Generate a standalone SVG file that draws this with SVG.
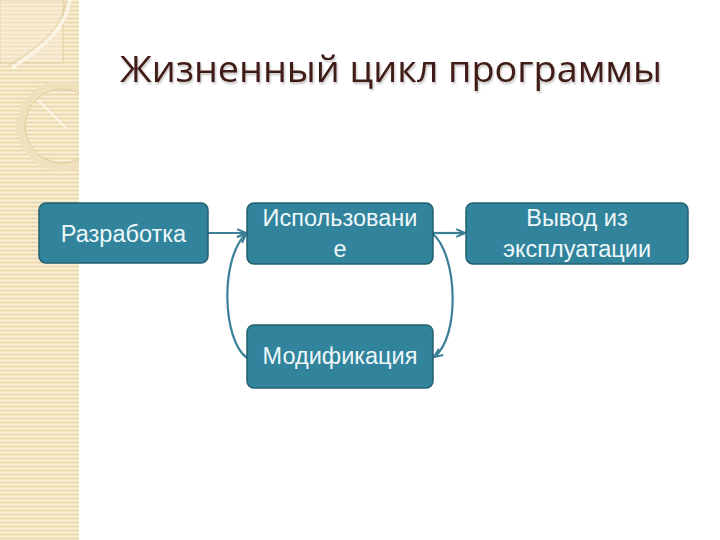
<svg xmlns="http://www.w3.org/2000/svg" width="720" height="540" viewBox="0 0 720 540">
  <defs>
    <pattern id="stripes" width="4" height="4" patternUnits="userSpaceOnUse">
      <rect width="4" height="4" fill="#f3e4c2"/>
      <rect y="0" width="4" height="1" fill="#faf1dc"/>
      <rect y="2" width="4" height="1" fill="#ead7ad"/>
    </pattern>
    <clipPath id="stripclip"><rect x="0" y="0" width="79" height="540"/></clipPath>
    <marker id="arr" viewBox="0 0 10 10" refX="9" refY="5" markerWidth="11" markerHeight="11" orient="auto" markerUnits="userSpaceOnUse">
      <path d="M1,1.5 L9,5 L1,8.5" fill="none" stroke="#3a7f96" stroke-width="1.8"/>
    </marker>
    <filter id="shadow" x="-5%" y="-20%" width="110%" height="140%">
      <feGaussianBlur in="SourceAlpha" stdDeviation="1"/>
      <feOffset dx="1" dy="1.5" result="b"/>
      <feComponentTransfer><feFuncA type="linear" slope="0.25"/></feComponentTransfer>
      <feMerge><feMergeNode/><feMergeNode in="SourceGraphic"/></feMerge>
    </filter>
  </defs>
  <style>
    .box { fill: #31849b; stroke: #235f70; stroke-width: 1.5; }
    .lbl { font-family: "Liberation Sans", Arial, sans-serif; font-size: 23.5px; fill: #eef7fa; text-anchor: middle; }
    .conn { fill: none; stroke: #3a7f96; stroke-width: 2.2; }
    .title { font-family: "Open Sans", "Noto Sans", sans-serif; font-size: 36px; fill: #3f1a14; }
  </style>
  <rect width="720" height="540" fill="#ffffff"/>
  <g id="sidebar">
    <rect x="0" y="0" width="79" height="540" fill="url(#stripes)"/>
    <g clip-path="url(#stripclip)">
      <rect x="0" y="0" width="63" height="63" fill="#f8eed6" fill-opacity="0.45" stroke="#e2cfa2" stroke-width="1"/>
      <path d="M70,0 C66,30 40,50 12,68" fill="none" stroke="#fbf5e6" stroke-width="3"/>
      <path d="M66,0 C62,30 36,48 8,66" fill="none" stroke="#e2cea2" stroke-width="1"/>
      <circle cx="62" cy="126" r="41" fill="none" stroke="#efe1bb" stroke-width="8"/>
      <circle cx="62" cy="126" r="37" fill="none" stroke="#e0cb9e" stroke-width="1"/>
      <path d="M38,100 L66,128" stroke="#fbf5e6" stroke-width="2"/>
    </g>
  </g>
  <g id="title">
    <text class="title" x="120" y="82" textLength="542" lengthAdjust="spacingAndGlyphs" filter="url(#shadow)">Жизненный цикл программы</text>
  </g>
  <g id="connectors">
    <line class="conn" x1="208" y1="233" x2="246" y2="233" marker-end="url(#arr)"/>
    <line class="conn" x1="433" y1="233" x2="465" y2="233" marker-end="url(#arr)"/>
    <path class="conn" d="M247,358 C222,340 220,258 246,234" marker-end="url(#arr)"/>
    <path class="conn" d="M433,234 C458,256 460,338 434,357" marker-end="url(#arr)"/>
  </g>
  <g id="node-razrabotka">
    <rect class="box" x="39" y="203" width="169" height="60" rx="7"/>
    <text class="lbl" x="123.5" y="242">Разработка</text>
  </g>
  <g id="node-ispolzovanie">
    <rect class="box" x="247" y="203" width="186" height="61" rx="7"/>
    <text class="lbl" x="340" y="226">Использовани</text>
    <text class="lbl" x="340" y="257">е</text>
  </g>
  <g id="node-modifikatsiya">
    <rect class="box" x="247" y="325" width="186" height="63" rx="7"/>
    <text class="lbl" x="340" y="364">Модификация</text>
  </g>
  <g id="node-vyvod">
    <rect class="box" x="466" y="203" width="222" height="61" rx="7"/>
    <text class="lbl" x="577" y="226">Вывод из</text>
    <text class="lbl" x="577" y="257">эксплуатации</text>
  </g>
</svg>
